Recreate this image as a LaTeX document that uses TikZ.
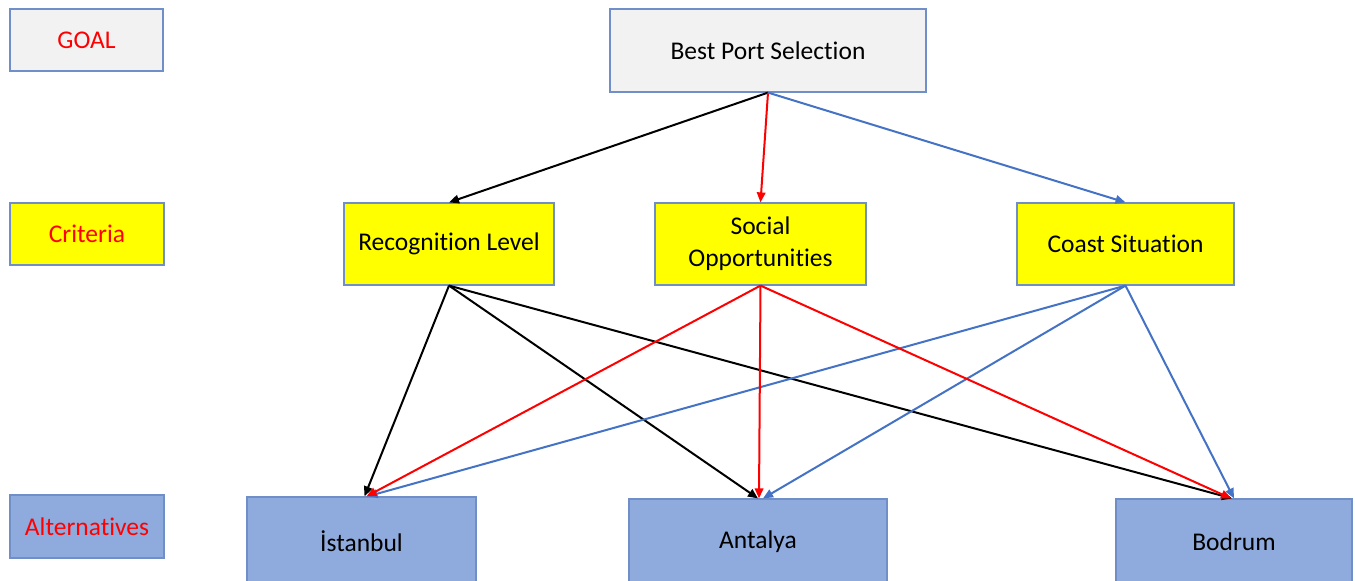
\documentclass[tikz,border=0pt]{standalone}
\usepackage{fontspec}
\setmainfont{Carlito}[Ligatures=NoCommon]
\usetikzlibrary{arrows.meta}
\definecolor{boxgray}{RGB}{242,242,242}
\definecolor{boxyellow}{RGB}{255,255,0}
\definecolor{boxblue}{RGB}{143,170,220}
\definecolor{bord}{RGB}{112,142,200}
\definecolor{lblue}{RGB}{68,114,196}
\definecolor{lred}{RGB}{255,0,0}
\begin{document}
\begin{tikzpicture}[x=1pt,y=-1pt,
  box/.style={draw=bord, line width=1.2pt, inner sep=0pt, align=center,
    font=\fontsize{25.5}{32}\selectfont},
  gbox/.style={box, fill=boxgray},
  ybox/.style={box, fill=boxyellow},
  bbox/.style={box, fill=boxblue},
  lbl/.style={text=lred},
  arr/.style={line width=2pt, -{Triangle[length=10pt,width=8.5pt]}}
]
\useasboundingbox (0,0) rectangle (1355,581);
\clip (0,0) rectangle (1355,581);
\fill[white] (0,0) rectangle (1355,581);
% level labels
\node[gbox, lbl, minimum width=153, minimum height=62] (goal) at (86.5,40) {GOAL};
\node[ybox, lbl, minimum width=154, minimum height=62] (crit) at (87,234) {Criteria};
\node[bbox, lbl, minimum width=154, minimum height=63] (alt) at (87,526.5) {Alternatives};
% goal
\node[gbox, minimum width=316, minimum height=83] (best) at (768,50.5) {Best Port Selection};
% criteria
\node[ybox, minimum width=210, minimum height=82] (rec) at (449,244) {Recognition Level};
\node[ybox, minimum width=211, minimum height=82] (soc) at (760.5,244) {Social\\Opportunities};
\node[ybox, minimum width=217, minimum height=82] (coast) at (1125.5,244) {Coast Situation};
% alternatives
\node[bbox, minimum width=229, minimum height=88] (ist) at (361.5,541) {İstanbul};
\node[bbox, minimum width=258, minimum height=86] (ant) at (758,542) {Antalya};
\node[bbox, minimum width=236, minimum height=86] (bod) at (1234,542) {Bodrum};
% goal -> criteria
\draw[arr, black] (best.south) -- (rec.north);
\draw[arr, lred] (best.south) -- (soc.north);
\draw[arr, lblue] (best.south) -- (coast.north);
% criteria -> alternatives
\draw[arr, black] (rec.south) -- ([xshift=3pt]ist.north);
\draw[arr, black] (rec.south) -- (ant.north);
\draw[arr, black] (rec.south) -- ([xshift=-2pt]bod.north);
\draw[arr, lblue] (coast.south) -- ([xshift=6pt]ist.north);
\draw[arr, lblue] (coast.south) -- ([xshift=5pt]ant.north);
\draw[arr, lblue] (coast.south) -- (bod.north);
\draw[arr, lred] (soc.south) -- ([xshift=5pt]ist.north);
\draw[arr, lred] (soc.south) -- ([xshift=1pt]ant.north);
\draw[arr, lred] (soc.south) -- ([xshift=-3pt]bod.north);
\end{tikzpicture}
\end{document}
